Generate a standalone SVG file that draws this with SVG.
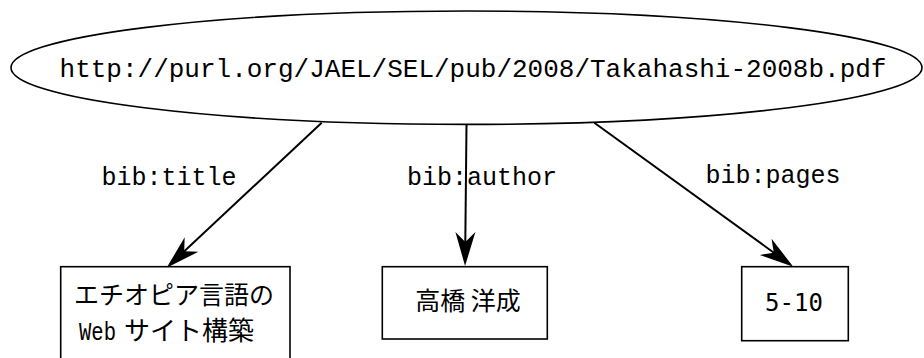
<svg xmlns="http://www.w3.org/2000/svg" width="924" height="358" viewBox="0 0 924 358">
  <style>
    .shape { fill: #ffffff; stroke: #000000; stroke-width: 1.6; }
    .edge { fill: none; stroke: #000000; stroke-width: 2; marker-end: url(#arrow); }
    .mono { font-family: "Liberation Mono", "DejaVu Sans Mono", monospace; fill: #000000; }
    .jp { font-family: "Noto Sans CJK JP", "Noto Sans", sans-serif; fill: #000000; }
    .num { font-family: "DejaVu Sans Mono", "Liberation Mono", monospace; fill: #000000; }
  </style>
  <defs>
    <marker id="arrow" markerUnits="userSpaceOnUse" viewBox="-36 -12 42 24" refX="-4" refY="0" markerWidth="42" markerHeight="24" orient="auto" overflow="visible">
      <path d="M0,0 L-34,-10 L-24,0 L-34,10 Z" fill="#000000"/>
    </marker>
  </defs>
  <rect x="0" y="0" width="924" height="358" fill="#ffffff"/>

  <g id="resource">
    <ellipse class="shape" cx="466.5" cy="67.7" rx="455.5" ry="56.7"/>
    <text class="mono" x="473" y="77" font-size="26" text-anchor="middle">http://purl.org/JAEL/SEL/pub/2008/Takahashi-2008b.pdf</text>
  </g>

  <g id="connectors">
    <line class="edge" x1="321.7" y1="122.7" x2="169.6" y2="265"/>
    <line class="edge" x1="466.5" y1="124.7" x2="465.1" y2="262"/>
    <line class="edge" x1="594.3" y1="122.7" x2="790" y2="264.4"/>
    <text class="mono" x="169" y="185" font-size="25" text-anchor="middle">bib:title</text>
    <text class="mono" x="482" y="185" font-size="25" text-anchor="middle">bib:author</text>
    <text class="mono" x="773" y="182.5" font-size="25" text-anchor="middle">bib:pages</text>
  </g>

  <g id="title">
    <rect class="shape" x="60.7" y="266.7" width="229.3" height="110"/>
    <text class="jp" x="174" y="304" font-size="25" text-anchor="middle">エチオピア言語の</text>
    <text x="79" y="340"><tspan class="mono" font-size="25" textLength="37" lengthAdjust="spacingAndGlyphs">Web</tspan><tspan class="jp" x="124" font-size="26">サイト構築</tspan></text>
  </g>

  <g id="author">
    <rect class="shape" x="382.3" y="266.7" width="165" height="72.3"/>
    <text class="jp" x="468" y="310" font-size="25" text-anchor="middle">高橋 洋成</text>
  </g>

  <g id="pages">
    <rect class="shape" x="741.7" y="266.7" width="106.6" height="74"/>
    <text class="num" x="794" y="310.5" font-size="24" text-anchor="middle">5-10</text>
  </g>
</svg>
